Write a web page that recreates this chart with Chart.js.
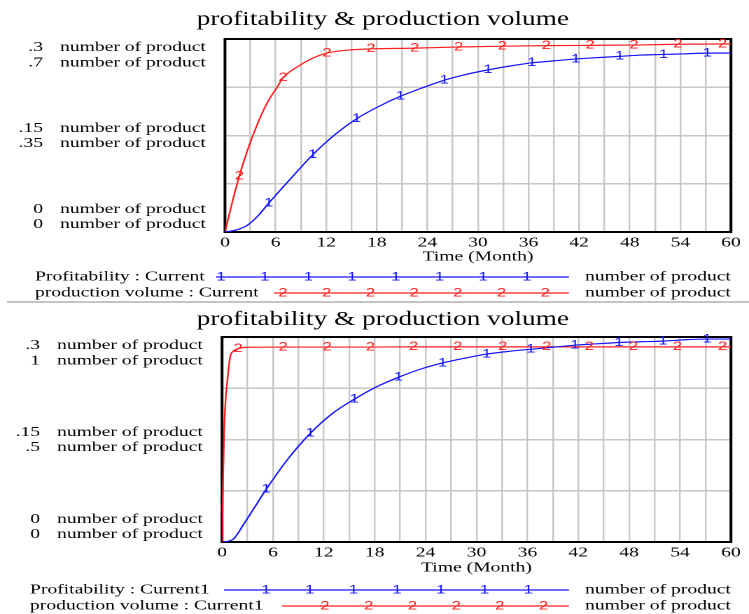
<!DOCTYPE html>
<html>
<head>
<meta charset="utf-8">
<script src="https://cdn.jsdelivr.net/npm/chart.js@4.4.1/dist/chart.umd.min.js"></script>
<style>
  html, body { margin: 0; padding: 0; background: #fff; }
  body { width: 749px; height: 614px; position: relative; overflow: hidden; }
  .panel { position: absolute; left: 0; transform: scaleX(1.4); transform-origin: 0 0; }
  #top { top: 0; }
  #bottom { top: 302px; }
  #sep { position: absolute; left: 7px; right: 0; top: 301px; height: 2px; background: #c4c4c4; }
</style>
</head>
<body>
<canvas id="top" class="panel" width="535" height="302"></canvas>
<div id="sep"></div>
<canvas id="bottom" class="panel" width="535" height="312"></canvas>
<script>
// the source screenshot is stretched sideways, so both canvases are too
var K = 1.4;

var TITLE = "profitability & production volume";
var X_TITLE = "Time (Month)";
var UNIT = "number of product";

// run "Current"
var profitTime1 = [0, 1.3, 2.6, 3.9, 5.2, 7.8, 10.4, 13, 15.6, 18.2, 20.8, 23.4, 26, 28.6, 31.2, 33.8, 36.4, 39, 41.6, 44.2, 46.8, 49.4, 52, 54.6, 57.2, 60];
var profit1 = [0, 0.003, 0.01, 0.025, 0.045, 0.083, 0.12, 0.151, 0.176, 0.195, 0.211, 0.224, 0.236, 0.245, 0.252, 0.258, 0.263, 0.266, 0.269, 0.271, 0.273, 0.275, 0.276, 0.277, 0.278, 0.278];
var profitMarks1 = [5.2, 10.4, 15.6, 20.8, 26, 31.2, 36.4, 41.6, 46.8, 52, 57.2];

var volumeTime1 = [0, 0.8, 1.7, 2.6, 3.8, 5, 6.2, 6.9, 8.9, 10.5, 12.1, 14.7, 17.3, 22.5, 27.7, 32.9, 38.1, 43.3, 48.5, 53.7, 59, 60];
var volume1 = [0, 0.1, 0.203, 0.29, 0.388, 0.468, 0.526, 0.56, 0.605, 0.632, 0.649, 0.66, 0.664, 0.667, 0.671, 0.674, 0.676, 0.677, 0.678, 0.681, 0.682, 0.682];
var volumeMarks1 = [1.7, 6.9, 12.1, 17.3, 22.5, 27.7, 32.9, 38.1, 43.3, 48.5, 53.7, 59];

// run "Current1"
var profitTime2 = [0, 1.3, 2.6, 3.9, 5.2, 7.8, 10.4, 13, 15.6, 18.2, 20.8, 23.4, 26, 28.6, 31.2, 33.8, 36.4, 39, 41.6, 44.2, 46.8, 49.4, 52, 54.6, 57.2, 60];
var profit2 = [0, 0.004, 0.027, 0.052, 0.077, 0.122, 0.159, 0.188, 0.209, 0.227, 0.241, 0.253, 0.262, 0.269, 0.275, 0.279, 0.282, 0.285, 0.288, 0.29, 0.292, 0.293, 0.294, 0.296, 0.297, 0.297];
var profitMarks2 = [5.2, 10.4, 15.6, 20.8, 26, 31.2, 36.4, 41.6, 46.8, 52, 57.2];

var volumeTime2 = [0, 0.12, 0.24, 0.4, 0.6, 0.94, 1.3, 1.9, 3, 7.2, 12.4, 17.5, 22.6, 27.8, 33.1, 38.3, 43.3, 48.5, 53.7, 59, 60];
var volume2 = [0, 0.3, 0.53, 0.68, 0.775, 0.9, 0.93, 0.943, 0.95, 0.951, 0.951, 0.951, 0.952, 0.952, 0.952, 0.952, 0.952, 0.952, 0.952, 0.952, 0.952];
var volumeMarks2 = [1.9, 7.2, 12.4, 17.5, 22.6, 27.8, 33.1, 38.3, 43.3, 48.5, 53.7, 59];

// left scale labels (top, middle, bottom)
var profitTicks = [".3", ".15", "0"];
var volumeTicks1 = [".7", ".35", "0"];
var volumeTicks2 = ["1", ".5", "0"];
var profitMax = 0.3;
var volumeMax1 = 0.7;
var volumeMax2 = 1;

var SERIF = "'Liberation Serif', 'Times New Roman', serif";
var BLUE = "rgb(20,20,255)";
var RED = "rgb(255,30,30)";
var INK = "#000";
var GRID = "#c6c6c6";
var GLYPH_FONT = "12px 'Liberation Sans', Arial, sans-serif";

function toPoints(xs, ys) {
  return xs.map(function (x, i) {
    return { x: x, y: ys[i] };
  });
}

var vensimDecor = {
  id: "vensimDecor",
  beforeDatasetsDraw: function (chart) {
    var a = chart.chartArea;
    var c = chart.ctx;
    c.save();
    c.strokeStyle = "#000";
    c.lineWidth = 2;
    c.strokeRect(a.left, a.top, a.right - a.left, a.bottom - a.top);
    c.restore();
  },
  afterDatasetsDraw: function (chart) {
    var c = chart.ctx;
    c.save();
    c.font = GLYPH_FONT;
    c.textAlign = "center";
    c.textBaseline = "middle";
    chart.data.datasets.forEach(function (ds, i) {
      var meta = chart.getDatasetMeta(i);
      c.fillStyle = ds.borderColor;
      ds.data.forEach(function (p, j) {
        if (ds.marks.indexOf(p.x) >= 0) {
          c.fillText(ds.glyph, meta.data[j].x, meta.data[j].y);
        }
      });
    });
    c.restore();
  },
  afterDraw: function (chart, args, opts) {
    var c = chart.ctx;
    var ys = chart.scales.y;
    c.save();
    c.font = "14px " + SERIF;
    c.textBaseline = "middle";
    c.fillStyle = INK;

    var rows = [
      [ys.getPixelForValue(ys.max), 8.5, 24],
      [ys.getPixelForValue(ys.max / 2), -7, 8],
      [ys.getPixelForValue(0), -22.5, -7.5],
    ];
    rows.forEach(function (r, k) {
      c.textAlign = "right";
      c.fillText(opts.profitTicks[k], opts.numRight / K, r[0] + r[1]);
      c.fillText(opts.volumeTicks[k], opts.numRight / K, r[0] + r[2]);
      c.textAlign = "left";
      c.fillText(UNIT, (opts.numRight + 17) / K, r[0] + r[1]);
      c.fillText(UNIT, (opts.numRight + 17) / K, r[0] + r[2]);
    });

    opts.legend.forEach(function (row) {
      c.font = "14px " + SERIF;
      c.fillStyle = INK;
      c.textAlign = "left";
      c.fillText(row.text, opts.legendX / K, row.y);
      c.fillText(UNIT, 585 / K, row.y);
      c.strokeStyle = row.color;
      c.lineWidth = 1.2;
      c.beginPath();
      c.moveTo(row.from / K, row.y);
      c.lineTo(569 / K, row.y);
      c.stroke();
      c.font = GLYPH_FONT;
      c.fillStyle = row.color;
      c.textAlign = "center";
      for (var m = 0; m < row.count; m++) {
        c.fillText(row.glyph, (row.first + m * 43.7) / K, row.y);
      }
    });
    c.restore();
  },
};

function panel(id, cfg) {
  var ctx = document.getElementById(id).getContext("2d");
  return new Chart(ctx, {
    type: "line",
    data: {
      datasets: [
        {
          label: cfg.profitLabel,
          data: toPoints(cfg.profitTime, cfg.profit),
          borderColor: BLUE,
          borderWidth: 1.2,
          yAxisID: "y",
          marks: cfg.profitMarks,
          glyph: "1",
        },
        {
          label: cfg.volumeLabel,
          data: toPoints(cfg.volumeTime, cfg.volume),
          borderColor: RED,
          borderWidth: 1.2,
          yAxisID: "y1",
          marks: cfg.volumeMarks,
          glyph: "2",
        },
      ],
    },
    options: {
      responsive: false,
      devicePixelRatio: 2,
      animation: false,
      layout: {
        padding: { left: 12, right: 0, top: 0, bottom: cfg.padBottom },
      },
      elements: {
        point: { radius: 0, hoverRadius: 0 },
        line: { cubicInterpolationMode: "monotone" },
      },
      plugins: {
        legend: { display: false },
        tooltip: { enabled: false },
        title: {
          display: true,
          text: TITLE,
          color: INK,
          font: { family: SERIF, size: 19.5, weight: "normal", lineHeight: 1.2 },
          padding: { top: cfg.titleTop, bottom: cfg.titleBottom },
        },
        vensimDecor: {
          numRight: cfg.numRight,
          profitTicks: profitTicks,
          volumeTicks: cfg.volumeTicks,
          legendX: cfg.legendX,
          legend: cfg.legend,
        },
      },
      scales: {
        x: {
          type: "linear",
          min: 0,
          max: 60,
          border: { display: false },
          grid: { color: GRID, lineWidth: 1.2, drawTicks: false },
          ticks: {
            stepSize: 3,
            autoSkip: false,
            maxRotation: 0,
            padding: cfg.tickPad,
            color: INK,
            font: { family: SERIF, size: 14, lineHeight: 1.2 },
            callback: function (value) {
              return value % 6 === 0 ? value : "";
            },
          },
          title: {
            display: true,
            text: X_TITLE,
            color: INK,
            padding: 0,
            font: { family: SERIF, size: 14, lineHeight: 1.2 },
          },
          afterFit: function (scale) {
            scale.height = cfg.xHeight;
          },
        },
        y: {
          position: "left",
          min: 0,
          max: profitMax,
          border: { display: false },
          grid: { color: GRID, lineWidth: 1.5, drawTicks: false },
          ticks: { display: false, stepSize: profitMax / 4 },
          afterFit: function (scale) {
            scale.width = cfg.leftWidth;
          },
        },
        y1: {
          position: "right",
          min: 0,
          max: cfg.volumeMax,
          border: { display: false },
          grid: { display: false, drawTicks: false },
          ticks: { display: false },
          afterFit: function (scale) {
            scale.width = 12.9;
          },
        },
      },
    },
    plugins: [vensimDecor],
  });
}

panel("top", {
  profitLabel: "Profitability : Current",
  volumeLabel: "production volume : Current",
  profitTime: profitTime1,
  profit: profit1,
  profitMarks: profitMarks1,
  volumeTime: volumeTime1,
  volume: volume1,
  volumeMarks: volumeMarks1,
  volumeMax: volumeMax1,
  volumeTicks: volumeTicks1,
  titleTop: 8.3,
  titleBottom: 7.3,
  leftWidth: 148.7,
  tickPad: 2.3,
  xHeight: 33.4,
  padBottom: 36.6,
  numRight: 43,
  legendX: 35,
  legend: [
    { text: "Profitability : Current", color: BLUE, glyph: "1", y: 277, from: 216, first: 221, count: 8 },
    { text: "production volume : Current", color: RED, glyph: "2", y: 293, from: 274, first: 283, count: 7 },
  ],
});

panel("bottom", {
  profitLabel: "Profitability : Current1",
  volumeLabel: "production volume : Current1",
  profitTime: profitTime2,
  profit: profit2,
  profitMarks: profitMarks2,
  volumeTime: volumeTime2,
  volume: volume2,
  volumeMarks: volumeMarks2,
  volumeMax: volumeMax2,
  volumeTicks: volumeTicks2,
  titleTop: 6.3,
  titleBottom: 5.3,
  leftWidth: 146.6,
  tickPad: 2.6,
  xHeight: 34.4,
  padBottom: 37.6,
  numRight: 40,
  legendX: 30,
  legend: [
    { text: "Profitability : Current1", color: BLUE, glyph: "1", y: 288, from: 224, first: 266, count: 7 },
    { text: "production volume : Current1", color: RED, glyph: "2", y: 304, from: 282, first: 325, count: 6 },
  ],
});
</script>
</body>
</html>
